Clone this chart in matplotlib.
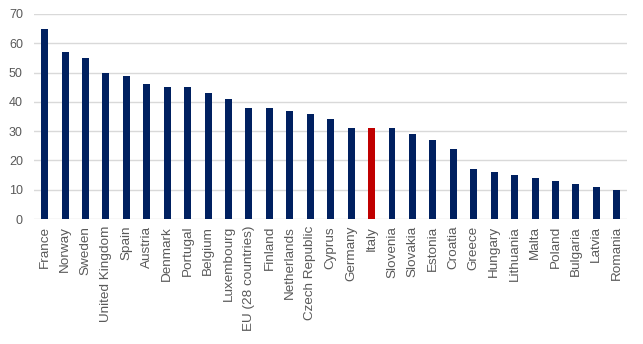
import matplotlib.pyplot as plt

countries = ["France", "Norway", "Sweden", "United Kingdom", "Spain", "Austria",
             "Denmark", "Portugal", "Belgium", "Luxembourg", "EU (28 countries)",
             "Finland", "Netherlands", "Czech Republic", "Cyprus", "Germany", "Italy",
             "Slovenia", "Slovakia", "Estonia", "Croatia", "Greece", "Hungary",
             "Lithuania", "Malta", "Poland", "Bulgaria", "Latvia", "Romania"]
values = [65, 57, 55, 50, 49, 46, 45, 45, 43, 41, 38, 38, 37, 36, 34, 31, 31,
          31, 29, 27, 24, 17, 16, 15, 14, 13, 12, 11, 10]
highlight = "Italy"
yticks = [0, 10, 20, 30, 40, 50, 60, 70]

plt.rcParams['font.family'] = ['Liberation Sans', 'DejaVu Sans']

fig = plt.figure(figsize=(6.43, 3.44), dpi=100)
ax = fig.add_axes([34 / 643, 1 - 219 / 344, (627 - 34) / 643, 205 / 344])

colors = ['#C00000' if c == highlight else '#002060' for c in countries]
ax.bar(range(len(countries)), values, width=0.34, color=colors, zorder=3)

ax.set_xlim(-0.52, len(countries) - 0.5)
ax.set_ylim(0, 70)
ax.set_yticks(yticks)
ax.yaxis.grid(True, color='#d9d9d9', linewidth=1)
ax.set_axisbelow(True)
ax.set_xticks(range(len(countries)))
ax.set_xticklabels(countries, rotation=90)
for s in ax.spines.values():
    s.set_visible(False)
ax.tick_params(axis='both', length=0, colors='#595959', labelsize=9)
ax.tick_params(axis='x', labelsize=9.7, pad=5)
ax.tick_params(axis='y', pad=8)

fig.savefig('out.png', dpi=100)
